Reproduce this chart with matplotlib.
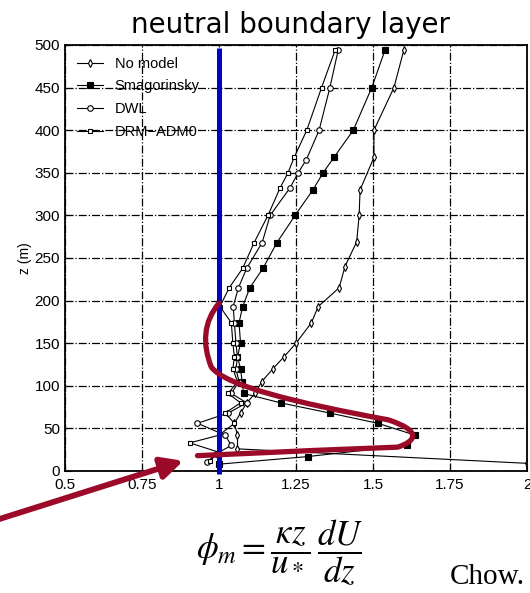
import matplotlib.pyplot as plt
import numpy as np
from matplotlib.path import Path
from matplotlib.patches import PathPatch

# profiles of phi_m: (phi_m, z)
z_nomodel = [494, 450, 400, 368, 330, 300, 269, 240, 215, 193, 174, 150, 134, 120, 105, 91, 80, 68, 56, 42, 26, 9]
phi_nomodel = [1.60, 1.568, 1.503, 1.503, 1.458, 1.455, 1.447, 1.409, 1.39, 1.322, 1.30, 1.25, 1.211, 1.175,
               1.139, 1.117, 1.09, 1.07, 1.05, 1.06, 1.06, 2.0]

z_smag = [494, 450, 400, 368, 350, 330, 300, 268, 238, 215, 193, 174, 150, 134, 120, 105, 91, 80, 68, 56, 42, 30, 17, 8]
phi_smag = [1.539, 1.496, 1.436, 1.373, 1.338, 1.305, 1.247, 1.188, 1.143, 1.10, 1.077, 1.065, 1.07, 1.06, 1.07,
            1.075, 1.08, 1.2, 1.36, 1.516, 1.637, 1.609, 1.29, 1.0]

z_dwl = [494, 450, 400, 365, 350, 332, 300, 268, 238, 215, 193, 174, 150, 134, 120, 105, 91, 80, 68, 56, 42, 30, 20, 10]
phi_dwl = [1.387, 1.36, 1.325, 1.283, 1.257, 1.23, 1.166, 1.14, 1.09, 1.063, 1.046, 1.05, 1.055, 1.06, 1.055,
           1.065, 1.04, 1.09, 1.03, 0.93, 1.02, 1.04, 0.99, 0.96]

z_drm = [494, 450, 400, 368, 350, 332, 300, 268, 238, 215, 193, 174, 150, 134, 120, 105, 91, 80, 68, 56, 42, 33, 22, 12]
phi_drm = [1.377, 1.333, 1.285, 1.244, 1.224, 1.198, 1.159, 1.114, 1.077, 1.033, 1.003, 1.04, 1.045, 1.05, 1.045,
           1.06, 1.03, 1.07, 1.02, 1.05, 1.0, 0.905, 1.0, 0.97]

labels = ["No model", "Smagorinsky", "DWL", "DRM\u2212ADM0"]
xticks = [0.5, 0.75, 1, 1.25, 1.5, 1.75, 2]
xticklabels = ["0.5", "0.75", "1", "1.25", "1.5", "1.75", "2"]
yticks = list(range(0, 501, 50))

# hand-drawn red annotation (bezier control points, data units)
red_x = [1.0, 0.95, 0.945, 0.975, 1.02, 1.25, 1.55, 1.66, 1.64, 1.58, 1.3, 0.93]
red_z = [197, 175, 150, 122, 100, 80, 60, 47, 35, 28, 24, 18]

plt.rcParams['font.family'] = ['Liberation Sans', 'DejaVu Sans']
plt.rcParams['mathtext.fontset'] = 'stix'

fig = plt.figure(figsize=(5.3, 5.93), dpi=100)
ax = fig.add_axes([65 / 530, 1 - 471 / 593, 462 / 530, 426 / 593])

ax.grid(True, color='black', linestyle='-.', linewidth=0.9)
ax.set_axisbelow(True)

ax.plot(phi_nomodel, z_nomodel, color='black', lw=0.8, marker='d', ms=4, mfc='white', mew=0.8, label=labels[0])
ax.plot(phi_smag, z_smag, color='black', lw=0.8, marker='s', ms=4, mfc='black', mew=0.8, label=labels[1])
ax.plot(phi_dwl, z_dwl, color='black', lw=0.8, marker='o', ms=4, mfc='white', mew=0.8, label=labels[2])
ax.plot(phi_drm, z_drm, color='black', lw=0.8, marker='s', ms=3.5, mfc='white', mew=0.8, label=labels[3])

ax.set_xlim(0.5, 2)
ax.set_ylim(0, 500)
ax.set_xticks(xticks)
ax.set_xticklabels(xticklabels)
ax.set_yticks(yticks)
ax.tick_params(direction='in', labelsize=11, length=4)
ax.tick_params(axis='x', pad=5)
for s in ax.spines.values():
    s.set_linewidth(1.3)
ax.set_ylabel("z (m)", fontsize=10, labelpad=2)

leg = ax.legend(loc='upper left', frameon=False, fontsize=10.5, handlelength=1.8,
                labelspacing=0.6, borderaxespad=0.4)

# blue reference line at phi_m = 1
ax.plot([1, 1], [497, -3], color='#0000c8', lw=3.6, solid_capstyle='butt', clip_on=False, zorder=5)

# red annotation curve
verts = list(zip(red_x, red_z))
codes = [Path.MOVETO] + [Path.CURVE4] * 9 + [Path.LINETO] * 2
path = Path(verts, codes)
ax.add_patch(PathPatch(path, fill=False, edgecolor='#9b0a28', lw=3.8, capstyle='round', zorder=6))

# red arrow from outside the axes
ax.annotate('', xy=(186, 593 - 460), xycoords='figure pixels',
            xytext=(-10, 593 - 522), textcoords='figure pixels',
            arrowprops=dict(arrowstyle='-|>,head_length=1.3,head_width=0.65', color='#9b0a28', lw=4.2),
            annotation_clip=False)

fig.text(0.549, 1 - 25 / 593, "neutral boundary layer", ha='center', va='center',
         fontsize=20, family='DejaVu Sans')
fig.text(280 / 530, 1 - 553 / 593, r"$\phi_m = \dfrac{\kappa z}{u_*}\,\dfrac{dU}{dz}$", ha='center', va='center',
         fontsize=25)
fig.text(450 / 530, 1 - 577 / 593, "Chow.", ha='left', va='center', fontsize=21, family='Liberation Serif')

fig.savefig('out.png', dpi=100)
